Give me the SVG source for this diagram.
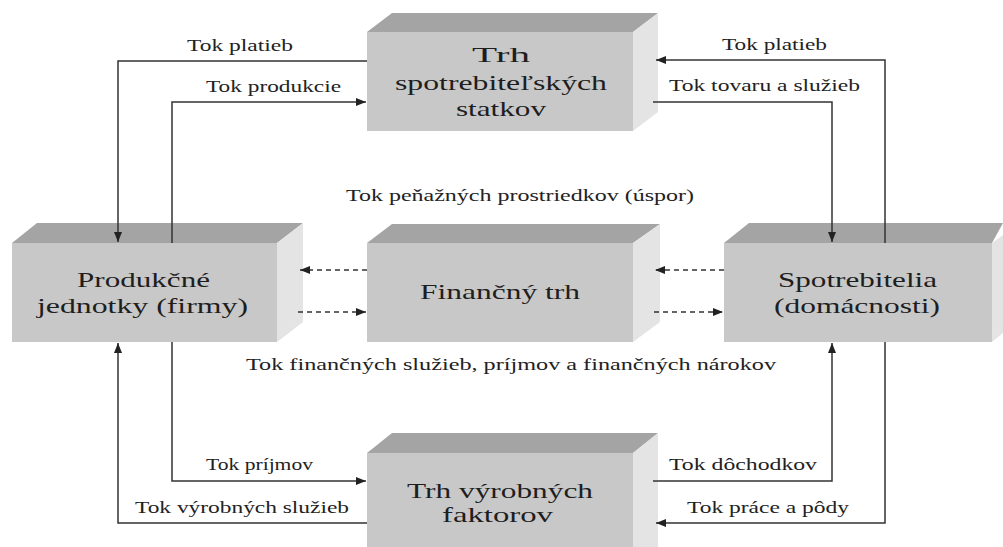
<svg xmlns="http://www.w3.org/2000/svg" width="1003" height="547" viewBox="0 0 1003 547">
<style>
.front{fill:#c8c8c8}
.top{fill:#a4a4a4}
.side{fill:#e4e4e4}
text{font-family:"Liberation Serif",serif}
.nt{font-size:22px;fill:#1e1e1e}
.lb{font-size:16px;fill:#222}
.ln{fill:none;stroke:#333;stroke-width:1.5}
.dash{stroke-dasharray:5 4}
</style>
<defs>
<marker id="ah" markerWidth="10" markerHeight="8" refX="10" refY="4" orient="auto" markerUnits="userSpaceOnUse">
<path d="M0,0 L10,4 L0,8 Z" fill="#222"/>
</marker>
</defs>
<rect width="1003" height="547" fill="#ffffff"/>

<g id="node-trh-spotrebitelskych">
<polygon class="top" points="367,32 392,13 658,13 633,32"/>
<polygon class="side" points="633,32 658,13 658,112 633,131"/>
<rect class="front" x="367" y="32" width="266" height="99"/>
<text class="nt" font-family="Liberation Serif" x="472" y="62" textLength="58" lengthAdjust="spacingAndGlyphs">Trh</text>
<text class="nt" font-family="Liberation Serif" x="395" y="90" textLength="212" lengthAdjust="spacingAndGlyphs">spotrebiteľských</text>
<text class="nt" font-family="Liberation Serif" x="456" y="116" textLength="90" lengthAdjust="spacingAndGlyphs">statkov</text>
</g>

<g id="node-produkcne">
<polygon class="top" points="12,243 37,223 303,223 277,243"/>
<polygon class="side" points="277,243 303,223 303,322 277,342"/>
<rect class="front" x="12" y="243" width="265" height="99"/>
<text class="nt" font-family="Liberation Serif" x="77" y="287" textLength="133" lengthAdjust="spacingAndGlyphs">Produkčné</text>
<text class="nt" font-family="Liberation Serif" x="37" y="313" textLength="211" lengthAdjust="spacingAndGlyphs">jednotky (firmy)</text>
</g>

<g id="node-financny-trh">
<polygon class="top" points="367,243 392,224 660,224 633,243"/>
<polygon class="side" points="633,243 660,224 660,322 633,342"/>
<rect class="front" x="367" y="243" width="266" height="99"/>
<text class="nt" font-family="Liberation Serif" x="420" y="299" textLength="160" lengthAdjust="spacingAndGlyphs">Finančný trh</text>
</g>

<g id="node-spotrebitelia">
<polygon class="top" points="724,243 749,223 1003,223 992,243"/>
<polygon class="side" points="992,243 1003,235 1003,333 992,342"/>
<rect class="front" x="724" y="243" width="268" height="99"/>
<text class="nt" font-family="Liberation Serif" x="778" y="287" textLength="159" lengthAdjust="spacingAndGlyphs">Spotrebitelia</text>
<text class="nt" font-family="Liberation Serif" x="774" y="313" textLength="166" lengthAdjust="spacingAndGlyphs">(domácnosti)</text>
</g>

<g id="node-trh-vyrobnych">
<polygon class="top" points="367,453 392,433 658,433 633,453"/>
<polygon class="side" points="633,453 658,433 658,547 633,547"/>
<rect class="front" x="367" y="453" width="266" height="94"/>
<text class="nt" font-family="Liberation Serif" x="407" y="498" textLength="186" lengthAdjust="spacingAndGlyphs">Trh výrobných</text>
<text class="nt" font-family="Liberation Serif" x="442" y="522" textLength="111" lengthAdjust="spacingAndGlyphs">faktorov</text>
</g>

<g id="connectors">
<path class="ln" d="M367,61 H118 V242" marker-end="url(#ah)"/>
<path class="ln" d="M172,243 V102 H366" marker-end="url(#ah)"/>
<path class="ln" d="M885,243 V60 H656" marker-end="url(#ah)"/>
<path class="ln" d="M653,102 H832 V242" marker-end="url(#ah)"/>
<path class="ln" d="M172,342 V481 H366" marker-end="url(#ah)"/>
<path class="ln" d="M367,523 H118 V343" marker-end="url(#ah)"/>
<path class="ln" d="M653,481 H832 V343" marker-end="url(#ah)"/>
<path class="ln" d="M885,342 V523 H656" marker-end="url(#ah)"/>
<path class="ln dash" d="M367,270 H300" marker-end="url(#ah)"/>
<path class="ln dash" d="M298,312 H366" marker-end="url(#ah)"/>
<path class="ln dash" d="M724,270 H655" marker-end="url(#ah)"/>
<path class="ln dash" d="M654,312 H723" marker-end="url(#ah)"/>
</g>

<g id="labels">
<text class="lb" font-family="Liberation Serif" x="187" y="51" textLength="106" lengthAdjust="spacingAndGlyphs">Tok platieb</text>
<text class="lb" font-family="Liberation Serif" x="206" y="92" textLength="135" lengthAdjust="spacingAndGlyphs">Tok produkcie</text>
<text class="lb" font-family="Liberation Serif" x="722" y="50" textLength="105" lengthAdjust="spacingAndGlyphs">Tok platieb</text>
<text class="lb" font-family="Liberation Serif" x="669" y="91" textLength="191" lengthAdjust="spacingAndGlyphs">Tok tovaru a služieb</text>
<text class="lb" font-family="Liberation Serif" x="346" y="201" textLength="348" lengthAdjust="spacingAndGlyphs">Tok peňažných prostriedkov (úspor)</text>
<text class="lb" font-family="Liberation Serif" x="246" y="370" textLength="530" lengthAdjust="spacingAndGlyphs">Tok finančných služieb, príjmov a finančných nárokov</text>
<text class="lb" font-family="Liberation Serif" x="206" y="470" textLength="107" lengthAdjust="spacingAndGlyphs">Tok príjmov</text>
<text class="lb" font-family="Liberation Serif" x="135" y="513" textLength="214" lengthAdjust="spacingAndGlyphs">Tok výrobných služieb</text>
<text class="lb" font-family="Liberation Serif" x="669" y="470" textLength="148" lengthAdjust="spacingAndGlyphs">Tok dôchodkov</text>
<text class="lb" font-family="Liberation Serif" x="687" y="513" textLength="162" lengthAdjust="spacingAndGlyphs">Tok práce a pôdy</text>
</g>
</svg>
